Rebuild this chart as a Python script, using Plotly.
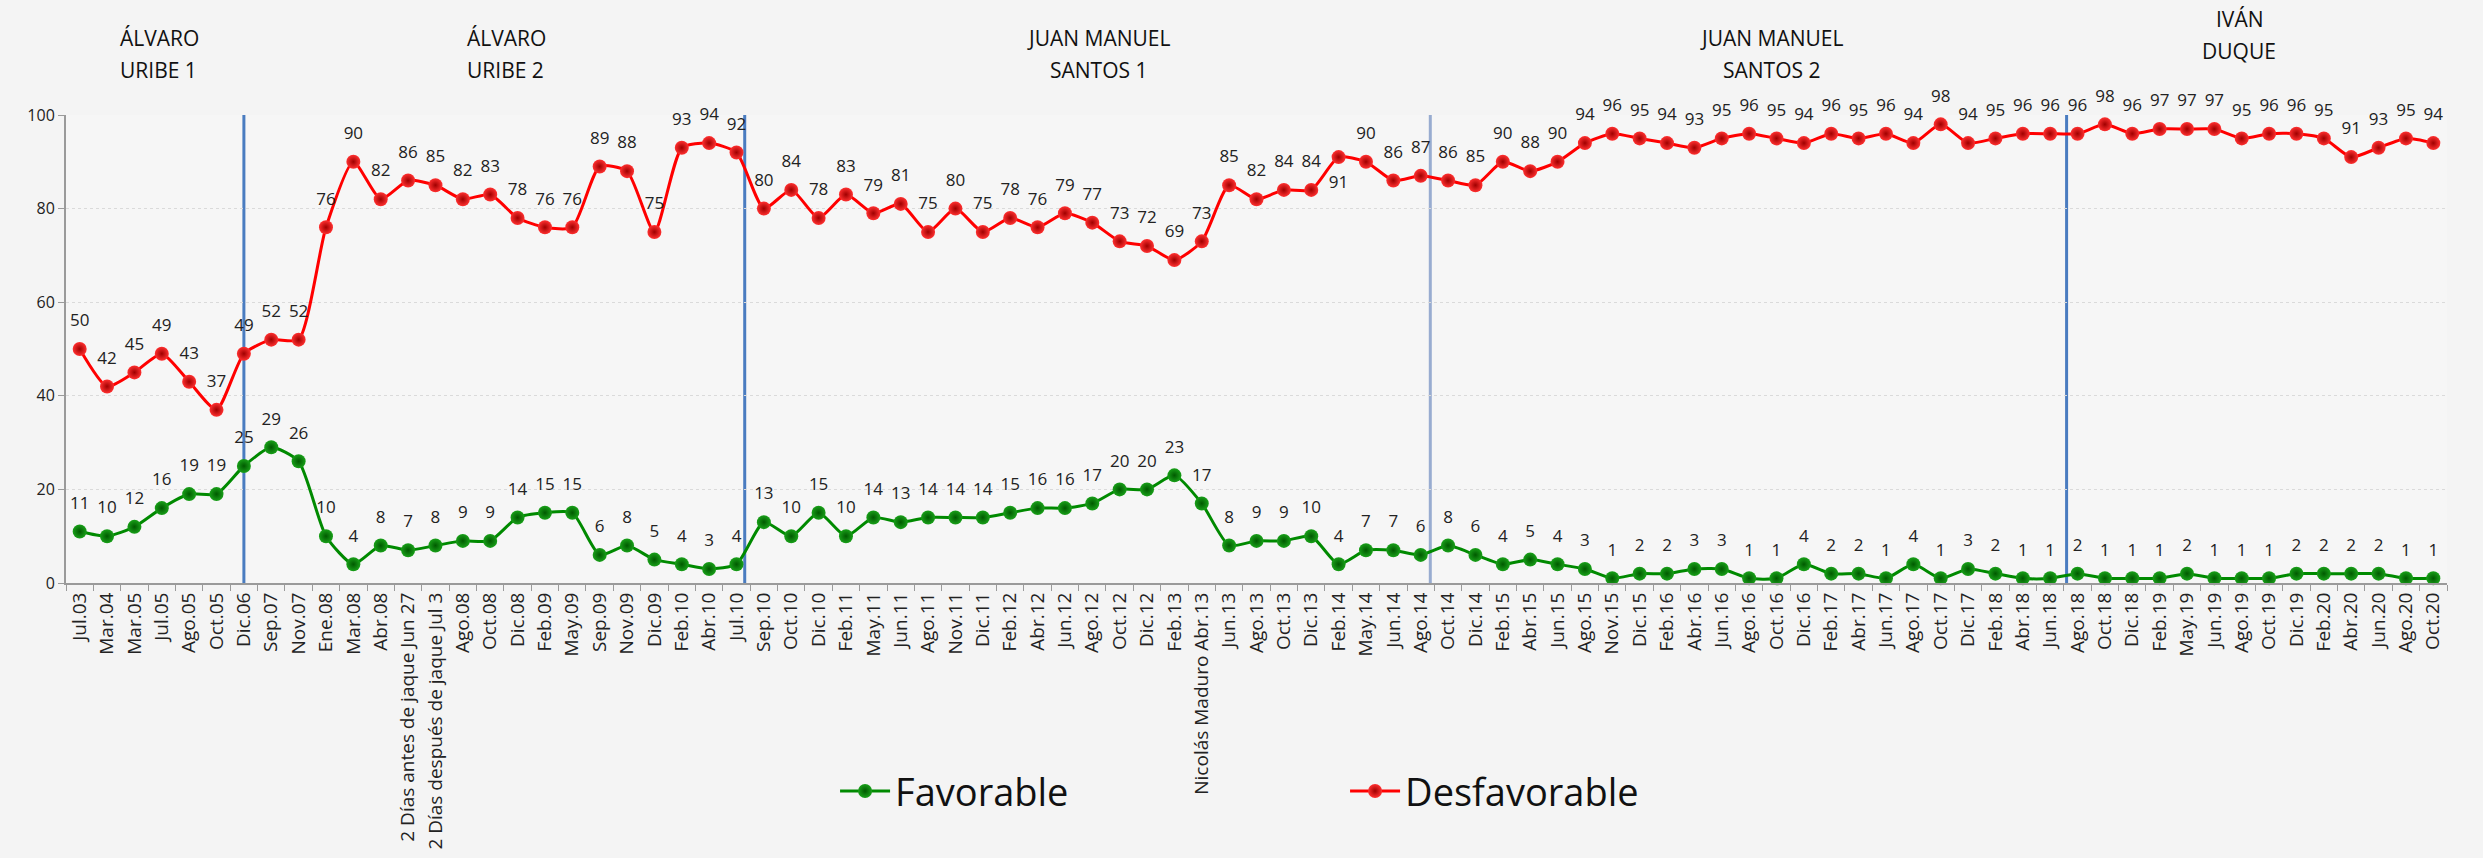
import plotly.graph_objects as go

# categories (survey dates)
fechas = ['Jul.03', 'Mar.04', 'Mar.05', 'Jul.05', 'Ago.05', 'Oct.05', 'Dic.06', 'Sep.07',
          'Nov.07', 'Ene.08', 'Mar.08', 'Abr.08', '2 Días antes de jaque Jun 27',
          '2 Días después de jaque Jul 3', 'Ago.08', 'Oct.08', 'Dic.08', 'Feb.09', 'May.09',
          'Sep.09', 'Nov.09', 'Dic.09', 'Feb.10', 'Abr.10', 'Jul.10', 'Sep.10', 'Oct.10',
          'Dic.10', 'Feb.11', 'May.11', 'Jun.11', 'Ago.11', 'Nov.11', 'Dic.11', 'Feb.12',
          'Abr.12', 'Jun.12', 'Ago.12', 'Oct.12', 'Dic.12', 'Feb.13', 'Nicolás Maduro Abr.13',
          'Jun.13', 'Ago.13', 'Oct.13', 'Dic.13', 'Feb.14', 'May.14', 'Jun.14', 'Ago.14',
          'Oct.14', 'Dic.14', 'Feb.15', 'Abr.15', 'Jun.15', 'Ago.15', 'Nov.15', 'Dic.15',
          'Feb.16', 'Abr.16', 'Jun.16', 'Ago.16', 'Oct.16', 'Dic.16', 'Feb.17', 'Abr.17',
          'Jun.17', 'Ago.17', 'Oct.17', 'Dic.17', 'Feb.18', 'Abr.18', 'Jun.18', 'Ago.18',
          'Oct.18', 'Dic.18', 'Feb.19', 'May.19', 'Jun.19', 'Ago.19', 'Oct.19', 'Dic.19',
          'Feb.20', 'Abr.20', 'Jun.20', 'Ago.20', 'Oct.20']

favorable = [11, 10, 12, 16, 19, 19, 25, 29, 26, 10, 4, 8, 7, 8, 9, 9, 14, 15, 15, 6, 8, 5,
             4, 3, 4, 13, 10, 15, 10, 14, 13, 14, 14, 14, 15, 16, 16, 17, 20, 20, 23, 17, 8,
             9, 9, 10, 4, 7, 7, 6, 8, 6, 4, 5, 4, 3, 1, 2, 2, 3, 3, 1, 1, 4, 2, 2, 1, 4, 1,
             3, 2, 1, 1, 2, 1, 1, 1, 2, 1, 1, 1, 2, 2, 2, 2, 1, 1]

desfavorable = [50, 42, 45, 49, 43, 37, 49, 52, 52, 76, 90, 82, 86, 85, 82, 83, 78, 76, 76,
                89, 88, 75, 93, 94, 92, 80, 84, 78, 83, 79, 81, 75, 80, 75, 78, 76, 79, 77,
                73, 72, 69, 73, 85, 82, 84, 84, 91, 90, 86, 87, 86, 85, 90, 88, 90, 94, 96,
                95, 94, 93, 95, 96, 95, 94, 96, 95, 96, 94, 98, 94, 95, 96, 96, 96, 98, 96,
                97, 97, 97, 95, 96, 96, 95, 91, 93, 95, 94]

# president periods
periodos = [('ÁLVARO', 'URIBE 1'), ('ÁLVARO', 'URIBE 2'), ('JUAN MANUEL', 'SANTOS 1'),
            ('JUAN MANUEL', 'SANTOS 2'), ('IVÁN', 'DUQUE')]

font = 'Open Sans, DejaVu Sans, sans-serif'

# red label for Feb.14 sits under the point
pos_rojo = ['top center'] * len(fechas)
pos_rojo[fechas.index('Feb.14')] = 'bottom center'

fig = go.Figure()
series = [('Favorable', favorable, '#008a00', '#19a019', '#005a00', 'top center'),
          ('Desfavorable', desfavorable, '#ff0000', '#ff3030', '#a00000', pos_rojo)]
for nombre, vals, lc, mc, gc, tpos in series:
    fig.add_trace(go.Scatter(
        x=fechas, y=vals, name=nombre, mode='lines+markers',
        line=dict(color=lc, width=3, shape='spline', smoothing=0.6),
        marker=dict(size=14, color=mc, gradient=dict(type='radial', color=gc),
                    line=dict(width=0)),
        cliponaxis=False))
    # labels: invisible big markers push the text a bit further from the point
    fig.add_trace(go.Scatter(
        x=fechas, y=vals, mode='markers+text', showlegend=False, hoverinfo='skip',
        text=[str(v) for v in vals], textposition=tpos,
        textfont=dict(size=17, color='#222222', family=font),
        marker=dict(size=28, color='rgba(0,0,0,0)'),
        cliponaxis=False))

# vertical separators between presidencies
for xv, col in [(6, '#4a7cc0'), (24.3, '#4a7cc0'), (49.35, '#98acd0'), (72.6, '#4a7cc0')]:
    fig.add_shape(type='line', xref='x', yref='y', x0=xv, x1=xv, y0=0, y1=100,
                  line=dict(color=col, width=3), layer='below')

# period titles
tit_pos = [(1.4, 'left', 1.164, 1.096), (14.08, 'left', 1.164, 1.096),
           (37.24, 'center', 1.164, 1.096), (61.8, 'center', 1.164, 1.096),
           (78.9, 'center', 1.205, 1.137)]
for (l1, l2), (xp, anc, y1, y2) in zip(periodos, tit_pos):
    for txt, yp in [(l1, y1), (l2, y2)]:
        fig.add_annotation(text=txt, x=xp, xref='x', y=yp, yref='paper', xanchor=anc,
                           yanchor='middle', showarrow=False,
                           font=dict(size=21, color='#111111', family=font))

fig.update_layout(
    width=2483, height=858,
    margin=dict(l=66, r=36, t=115, b=275),
    paper_bgcolor='#f4f4f4', plot_bgcolor='#f6f6f6',
    font=dict(family=font, color='#222222'),
    showlegend=True,
    legend=dict(orientation='h', x=0.323, xanchor='left', y=-0.445, yanchor='middle',
                font=dict(size=38, color='#111111'), entrywidth=445,
                entrywidthmode='pixels', bgcolor='rgba(0,0,0,0)', itemwidth=50),
)
fig.update_xaxes(
    type='category', tickangle=-90, tickson='boundaries', ticks='outside', ticklen=6,
    tickcolor='#9a9a9a', showline=True, linecolor='#9a9a9a', linewidth=2,
    showgrid=False, automargin=False, tickfont=dict(size=19, color='#222222'),
    range=[-0.5, len(fechas) - 0.5])
fig.update_yaxes(
    range=[0, 100], dtick=20, ticks='outside', ticklen=6, tickcolor='#9a9a9a',
    showline=True, linecolor='#9a9a9a', linewidth=2, showgrid=True, gridcolor='#dadada',
    griddash='dot', zeroline=False, automargin=False, tickfont=dict(size=16, color='#222222'))

fig.write_html('out.html', config={'displayModeBar': False},
               post_script="document.body.style.margin='0';"
                           "document.body.style.background='#f4f4f4';")
